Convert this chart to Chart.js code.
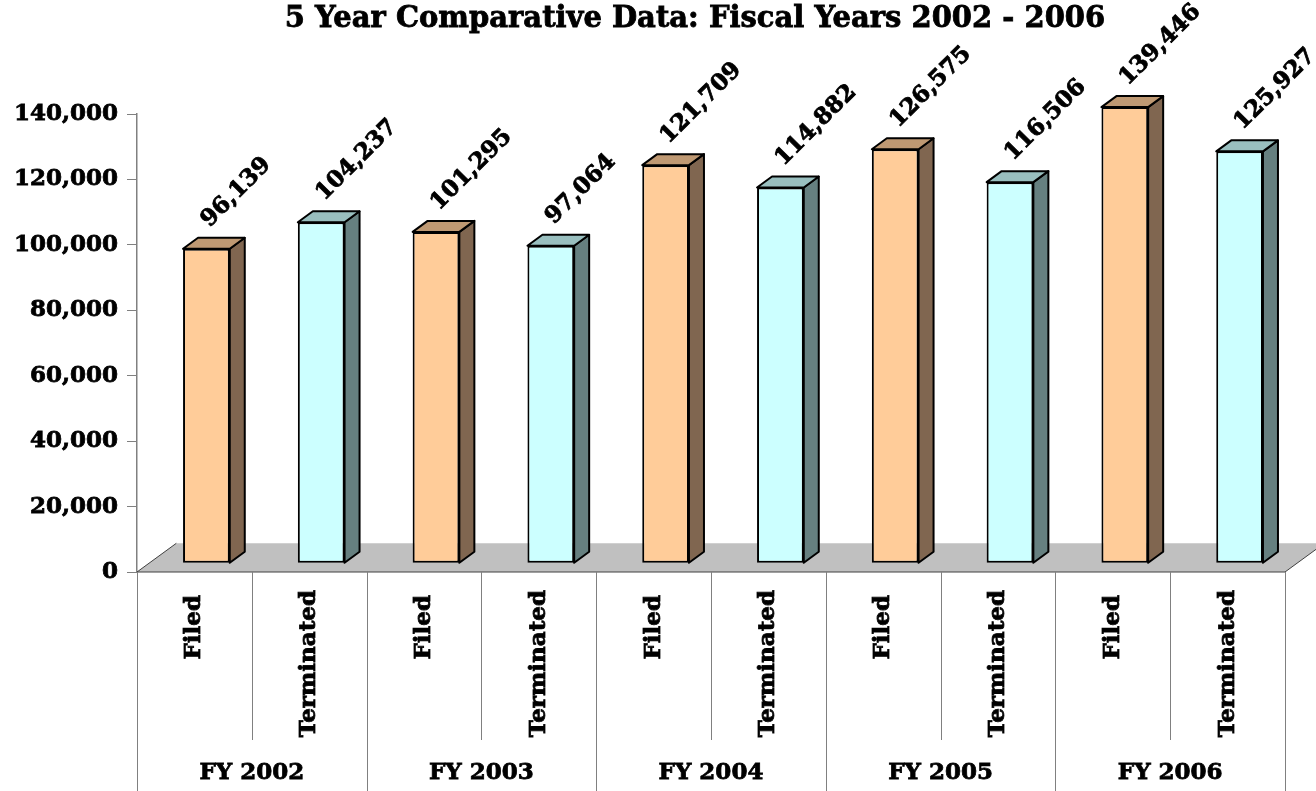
<!DOCTYPE html>
<html>
<head>
<meta charset="utf-8">
<script src="https://cdn.jsdelivr.net/npm/chart.js@4.4.1/dist/chart.umd.min.js"></script>
<style>
  html, body { margin: 0; padding: 0; background: #fff; }
  #wrap { width: 1316px; height: 791px; position: relative; }
</style>
</head>
<body>
<div id="wrap"><canvas id="chart"></canvas></div>
<script>
// ── Data ──
const title = '5 Year Comparative Data: Fiscal Years 2002 - 2006';
const years = ['FY 2002', 'FY 2003', 'FY 2004', 'FY 2005', 'FY 2006'];
const kinds = ['Filed', 'Terminated'];
const filed = [96139, 101295, 121709, 126575, 139446];
const terminated = [104237, 97064, 114882, 116506, 125927];
const yTicks = [0, 20000, 40000, 60000, 80000, 100000, 120000, 140000];

const categories = years.flatMap(() => kinds);
const values = years.flatMap((y, i) => [filed[i], terminated[i]]);

// ── Look ──
const FONT = "'DejaVu Serif'";
const front = { Filed: '#FFCC99', Terminated: '#CCFFFF' };
const side = { Filed: '#806650', Terminated: '#668080' };
const top_ = { Filed: '#BF9973', Terminated: '#99BFBF' };
const barDepth = { dx: 15, dy: -11 };
const barShift = { dx: 12, dy: -8.7 };
const floorDepth = { dx: 39.3, dy: -28.7 };

const fmt = v => v.toLocaleString('en-US');

// heavier text: fill + thin stroke
function boldText(ctx, s, x, y) {
  ctx.fillText(s, x, y);
  ctx.strokeText(s, x, y);
}

const bars3d = {
  id: 'bars3d',
  beforeDatasetsDraw(chart) {
    // floor
    const ctx = chart.ctx, xs = chart.scales.x, ys = chart.scales.y;
    const x0 = xs.left, x1 = xs.right, y0 = ys.getPixelForValue(0);
    ctx.save();
    ctx.beginPath();
    ctx.moveTo(x0, y0); ctx.lineTo(x1, y0);
    ctx.lineTo(x1 + floorDepth.dx, y0 + floorDepth.dy);
    ctx.lineTo(x0 + floorDepth.dx, y0 + floorDepth.dy);
    ctx.closePath();
    ctx.fillStyle = '#C0C0C0'; ctx.fill();
    ctx.beginPath();
    ctx.moveTo(x0 + floorDepth.dx, y0 + floorDepth.dy); ctx.lineTo(x0, y0);
    ctx.lineTo(x1, y0); ctx.lineTo(x1 + floorDepth.dx, y0 + floorDepth.dy);
    ctx.strokeStyle = '#404040'; ctx.lineWidth = 1; ctx.stroke();
    ctx.restore();
  },
  beforeDatasetDraw(chart, args) {
    const ctx = chart.ctx;
    ctx.save();
    ctx.translate(barShift.dx, barShift.dy);
    ctx.lineWidth = 2; ctx.strokeStyle = '#000'; ctx.lineJoin = 'round';
    args.meta.data.forEach((el, i) => {
      const k = categories[i];
      const l = el.x - el.width / 2, r = el.x + el.width / 2, t = el.y, b = el.base;
      const dx = barDepth.dx, dy = barDepth.dy;
      ctx.beginPath();
      ctx.moveTo(r, t); ctx.lineTo(r + dx, t + dy); ctx.lineTo(r + dx, b + dy); ctx.lineTo(r, b); ctx.closePath();
      ctx.fillStyle = side[k]; ctx.fill(); ctx.stroke();
      ctx.beginPath();
      ctx.moveTo(l, t); ctx.lineTo(r, t); ctx.lineTo(r + dx, t + dy); ctx.lineTo(l + dx, t + dy); ctx.closePath();
      ctx.fillStyle = top_[k]; ctx.fill(); ctx.stroke();
    });
  },
  afterDatasetDraw(chart) {
    chart.ctx.restore();
  },
  afterDraw(chart) {
    const ctx = chart.ctx, xs = chart.scales.x, ys = chart.scales.y;
    const meta = chart.getDatasetMeta(0);
    ctx.save();
    ctx.fillStyle = '#000';
    ctx.strokeStyle = '#000';
    ctx.lineWidth = 0.8;

    // title
    ctx.font = 'bold 29px ' + FONT;
    ctx.textAlign = 'center'; ctx.textBaseline = 'middle';
    boldText(ctx, title, 695, 19);

    ctx.font = 'bold 23px ' + FONT;
    // value labels, rotated
    meta.data.forEach((el, i) => {
      ctx.save();
      ctx.translate(el.x + barShift.dx + 3, el.y + barShift.dy - 21);
      ctx.rotate(-Math.PI / 4);
      ctx.textAlign = 'left'; ctx.textBaseline = 'alphabetic';
      boldText(ctx, fmt(values[i]), 0, 0);
      ctx.restore();
    });
    // x axis: dividers
    const y0 = ys.getPixelForValue(0);
    const px = i => xs.getPixelForValue(i);
    ctx.save();
    ctx.strokeStyle = '#808080'; ctx.lineWidth = 1;
    for (let i = 0; i <= categories.length; i++) {
      const x = i === 0 ? xs.left : i === categories.length ? xs.right : (px(i - 1) + px(i)) / 2;
      ctx.beginPath();
      ctx.moveTo(Math.round(x) + 0.5, y0);
      ctx.lineTo(Math.round(x) + 0.5, i % 2 === 0 ? 791 : 740);
      ctx.stroke();
    }
    ctx.restore();
    // category labels
    categories.forEach((c, i) => {
      ctx.save();
      ctx.translate(px(i), y0 + (c === 'Filed' ? 23 : 18));
      ctx.rotate(-Math.PI / 2);
      ctx.textAlign = 'right'; ctx.textBaseline = 'middle';
      boldText(ctx, c, 0, 0);
      ctx.restore();
    });
    // year labels
    ctx.textAlign = 'center'; ctx.textBaseline = 'middle';
    years.forEach((y, g) => {
      boldText(ctx, y, (px(2 * g) + px(2 * g + 1)) / 2, 773);
    });
    ctx.restore();
  }
};

new Chart(document.getElementById('chart'), {
  type: 'bar',
  data: {
    labels: categories,
    datasets: [{
      data: values,
      backgroundColor: categories.map(k => front[k]),
      borderColor: '#000',
      borderWidth: 2,
      borderSkipped: false,
      categoryPercentage: 1,
      barPercentage: 0.407,
      clip: false
    }]
  },
  options: {
    responsive: true,
    maintainAspectRatio: false,
    animation: false,
    layout: { padding: { left: 0, right: 31, top: 114, bottom: 219 } },
    plugins: {
      legend: { display: false },
      tooltip: { enabled: false },
      title: { display: false }
    },
    scales: {
      x: { display: false },
      y: {
        min: 0, max: 140000,
        afterFit: s => { s.width = 137; },
        afterBuildTicks: s => { s.ticks = yTicks.map(v => ({ value: v })); },
        grid: { drawOnChartArea: false, drawTicks: true, tickLength: 10, color: '#808080' },
        border: { display: true, color: '#808080', width: 1.5 },
        ticks: {
          color: '#000', padding: 9,
          textStrokeColor: '#000', textStrokeWidth: 0.8,
          font: { family: FONT, weight: 'bold', size: 23 },
          callback: v => fmt(v)
        }
      }
    }
  },
  plugins: [bars3d]
});
</script>
</body>
</html>
